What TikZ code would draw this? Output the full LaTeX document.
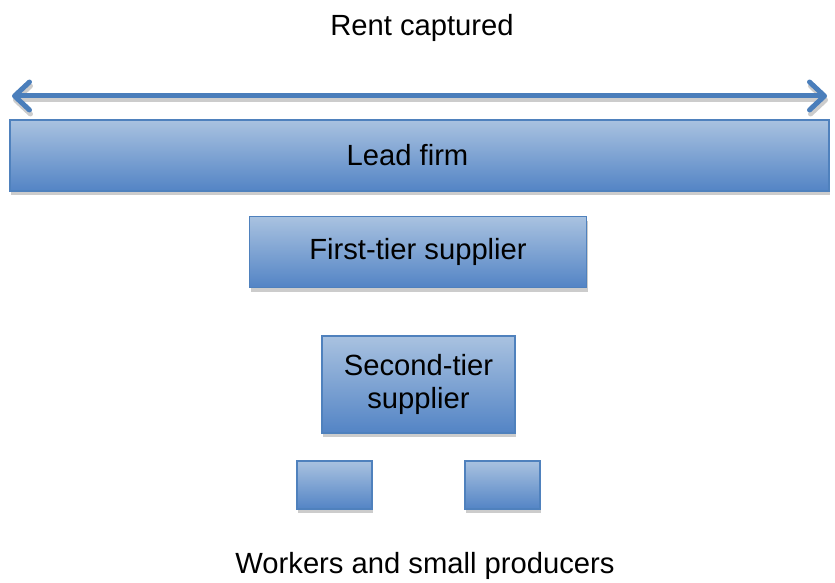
\documentclass[tikz,border=0pt]{standalone}
\usepackage{fontspec}
\setmainfont{Liberation Sans}
\usetikzlibrary{arrows.meta,positioning,shadows}
\definecolor{boxtop}{HTML}{A9C2E0}
\definecolor{boxbot}{HTML}{5384C5}
\definecolor{boxline}{HTML}{4F81BD}
\definecolor{arrowblue}{HTML}{4A7EBB}
\tikzstyle{tier box}=[draw=boxline,line width=1.5pt,top color=boxtop,bottom color=boxbot,inner sep=0pt,align=center,
  drop shadow={shadow xshift=1pt,shadow yshift=-4pt,fill=black!20,opacity=1}]
\tikzstyle{rent arrow}=[line width=5pt,{Straight Barb[length=15pt,width=28pt,round]}-{Straight Barb[length=15pt,width=28pt,round]}]

\begin{document}
\begin{tikzpicture}[x=1pt,y=-1pt,font=\fontsize{29.2}{33}\selectfont]

		\useasboundingbox (0,0) rectangle (835,583);

		\node(rent) at (422,28) {Rent captured};

		% the double arrow over the lead firm, with its grey shadow
		\coordinate(left) at (12,96);
		\coordinate(right) at (827,96);
		\draw[rent arrow,black!20] ([shift={(1,4)}]left) -- ([shift={(1,4)}]right);
		\draw[rent arrow,arrowblue] (left) -- (right);

		\node(lead)[tier box,minimum width=819,minimum height=71] at (419.5,155.5) {Lead firm\hspace*{24pt}};
		\node(first)[tier box,minimum width=337,minimum height=71] at (418,252) {First-tier supplier};
		\node(second)[tier box,minimum width=193,minimum height=97] at (418.5,384.5) {Second-tier\\supplier};

		% small producers
		\node(smallA)[tier box,minimum width=75,minimum height=48] at (334.5,485) {};
		\node(smallB)[tier box,minimum width=75,minimum height=48] at (502.5,485) {};

		\node(workers) at (425,566) {Workers and small producers};

\end{tikzpicture}
\end{document}
